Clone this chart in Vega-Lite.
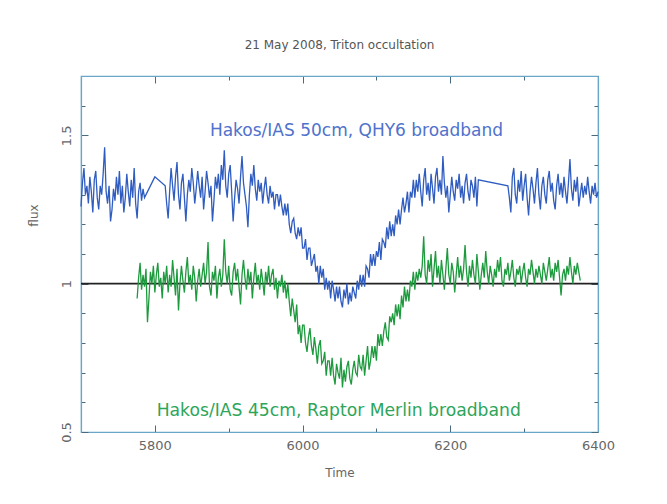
{
  "$schema": "https://vega.github.io/schema/vega-lite/v6.json",
  "width": 517,
  "height": 356,
  "autosize": {"type": "none"},
  "padding": {"left": 81, "top": 76, "right": 69, "bottom": 72},
  "background": "white",
  "title": {"text": "21 May 2008, Triton occultation", "fontSize": 12, "font": "DejaVu Sans", "fontWeight": "normal", "color": "#555555", "offset": 24},
  "config": {
    "view": {"stroke": "#6aa6c8", "strokeWidth": 1.2},
    "axis": {"domainColor": "#6aa6c8", "domainWidth": 1.2, "tickColor": "#4a6a80", "tickWidth": 1, "grid": false, "labelFont": "DejaVu Sans", "labelFontSize": 13, "labelColor": "#666666", "titleFont": "DejaVu Sans", "titleFontSize": 12, "titleFontWeight": "normal", "titleColor": "#666666", "labelOverlap": false, "labelFlush": false}
  },
  "datasets": {
    "blue": [
      {"t":5700,"f":1.26},{"t":5702,"f":1.34},{"t":5704,"f":1.39},{"t":5706,"f":1.30},{"t":5708,"f":1.33},{"t":5710,"f":1.27},{"t":5712,"f":1.36},{"t":5714,"f":1.31},{"t":5716,"f":1.24},{"t":5718,"f":1.35},{"t":5720,"f":1.38},{"t":5722,"f":1.29},{"t":5724,"f":1.25},{"t":5726,"f":1.33},{"t":5728,"f":1.30},{"t":5730,"f":1.37},{"t":5732,"f":1.46},{"t":5734,"f":1.31},{"t":5736,"f":1.27},{"t":5738,"f":1.33},{"t":5740,"f":1.21},{"t":5742,"f":1.25},{"t":5744,"f":1.32},{"t":5746,"f":1.28},{"t":5748,"f":1.36},{"t":5750,"f":1.30},{"t":5752,"f":1.38},{"t":5754,"f":1.27},{"t":5756,"f":1.33},{"t":5758,"f":1.24},{"t":5760,"f":1.29},{"t":5762,"f":1.37},{"t":5764,"f":1.31},{"t":5766,"f":1.26},{"t":5768,"f":1.35},{"t":5770,"f":1.29},{"t":5772,"f":1.39},{"t":5774,"f":1.27},{"t":5776,"f":1.22},{"t":5778,"f":1.31},{"t":5780,"f":1.34},{"t":5782,"f":1.28},{"t":5784,"f":1.32},{"t":5786,"f":1.29},
      {"t":5800,"f":1.36},{"t":5814,"f":1.33},
      {"t":5816,"f":1.27},{"t":5818,"f":1.22},{"t":5820,"f":1.31},{"t":5822,"f":1.39},{"t":5824,"f":1.33},{"t":5826,"f":1.28},{"t":5828,"f":1.36},{"t":5830,"f":1.41},{"t":5832,"f":1.30},{"t":5834,"f":1.25},{"t":5836,"f":1.34},{"t":5838,"f":1.37},{"t":5840,"f":1.29},{"t":5842,"f":1.21},{"t":5844,"f":1.30},{"t":5846,"f":1.35},{"t":5848,"f":1.31},{"t":5850,"f":1.39},{"t":5852,"f":1.34},{"t":5854,"f":1.27},{"t":5856,"f":1.32},{"t":5858,"f":1.38},{"t":5860,"f":1.33},{"t":5862,"f":1.29},{"t":5864,"f":1.36},{"t":5866,"f":1.25},{"t":5868,"f":1.31},{"t":5870,"f":1.38},{"t":5872,"f":1.34},{"t":5874,"f":1.29},{"t":5876,"f":1.33},{"t":5878,"f":1.21},{"t":5880,"f":1.28},{"t":5882,"f":1.36},{"t":5884,"f":1.32},{"t":5886,"f":1.37},{"t":5888,"f":1.30},{"t":5890,"f":1.40},{"t":5892,"f":1.35},{"t":5894,"f":1.45},{"t":5896,"f":1.33},{"t":5898,"f":1.29},{"t":5900,"f":1.37},{"t":5902,"f":1.40},{"t":5904,"f":1.31},{"t":5906,"f":1.21},{"t":5908,"f":1.29},{"t":5910,"f":1.35},{"t":5912,"f":1.32},{"t":5914,"f":1.27},{"t":5916,"f":1.36},{"t":5918,"f":1.43},{"t":5920,"f":1.34},{"t":5922,"f":1.30},{"t":5924,"f":1.26},{"t":5926,"f":1.19},{"t":5928,"f":1.30},{"t":5930,"f":1.37},{"t":5932,"f":1.33},{"t":5934,"f":1.40},{"t":5936,"f":1.32},{"t":5938,"f":1.28},{"t":5940,"f":1.35},{"t":5942,"f":1.31},{"t":5944,"f":1.34},{"t":5946,"f":1.27},{"t":5948,"f":1.32},{"t":5950,"f":1.36},{"t":5952,"f":1.30},{"t":5954,"f":1.27},{"t":5956,"f":1.33},{"t":5958,"f":1.29},{"t":5960,"f":1.31},{"t":5962,"f":1.25},{"t":5964,"f":1.30},
      {"t":5966,"f":1.30},{"t":5968,"f":1.26},{"t":5970,"f":1.30},{"t":5972,"f":1.26},{"t":5974,"f":1.23},{"t":5976,"f":1.27},{"t":5978,"f":1.23},{"t":5980,"f":1.27},{"t":5982,"f":1.20},{"t":5984,"f":1.17},{"t":5986,"f":1.21},{"t":5988,"f":1.22},{"t":5990,"f":1.17},{"t":5992,"f":1.15},{"t":5994,"f":1.19},{"t":5996,"f":1.16},{"t":5998,"f":1.19},{"t":6000,"f":1.12},{"t":6002,"f":1.12},{"t":6004,"f":1.15},{"t":6006,"f":1.08},{"t":6008,"f":1.12},{"t":6010,"f":1.12},{"t":6012,"f":1.06},{"t":6014,"f":1.08},{"t":6016,"f":1.10},{"t":6018,"f":1.04},{"t":6020,"f":1.06},{"t":6022,"f":1.00},{"t":6024,"f":1.06},{"t":6026,"f":1.02},{"t":6028,"f":1.05},{"t":6030,"f":0.98},{"t":6032,"f":1.02},{"t":6034,"f":0.98},{"t":6036,"f":1.01},{"t":6038,"f":0.95},{"t":6040,"f":1.01},{"t":6042,"f":0.98},{"t":6044,"f":0.94},{"t":6046,"f":0.99},{"t":6048,"f":0.95},{"t":6050,"f":0.99},{"t":6052,"f":0.94},{"t":6054,"f":0.92},{"t":6056,"f":0.98},{"t":6058,"f":0.95},{"t":6060,"f":1.00},{"t":6062,"f":0.93},{"t":6064,"f":0.97},{"t":6066,"f":0.94},{"t":6068,"f":0.99},{"t":6070,"f":0.97},{"t":6072,"f":0.95},{"t":6074,"f":1.01},{"t":6076,"f":0.98},{"t":6078,"f":1.03},{"t":6080,"f":0.99},{"t":6082,"f":1.03},{"t":6084,"f":0.99},{"t":6086,"f":1.06},{"t":6088,"f":1.05},{"t":6090,"f":1.02},{"t":6092,"f":1.10},{"t":6094,"f":1.06},{"t":6096,"f":1.10},{"t":6098,"f":1.06},{"t":6100,"f":1.11},{"t":6102,"f":1.09},{"t":6104,"f":1.14},{"t":6106,"f":1.08},{"t":6108,"f":1.15},{"t":6110,"f":1.14},{"t":6112,"f":1.12},{"t":6114,"f":1.19},{"t":6116,"f":1.15},{"t":6118,"f":1.21},{"t":6120,"f":1.16},{"t":6122,"f":1.20},{"t":6124,"f":1.16},{"t":6126,"f":1.23},{"t":6128,"f":1.20},{"t":6130,"f":1.25},{"t":6132,"f":1.20},{"t":6134,"f":1.25},{"t":6136,"f":1.29},{"t":6138,"f":1.24},{"t":6140,"f":1.27},{"t":6142,"f":1.31},{"t":6144,"f":1.24},{"t":6146,"f":1.31},{"t":6148,"f":1.29},{"t":6150,"f":1.35},{"t":6152,"f":1.29},{"t":6154,"f":1.35},{"t":6156,"f":1.31},{"t":6158,"f":1.37},
      {"t":6160,"f":1.31},{"t":6162,"f":1.26},{"t":6164,"f":1.35},{"t":6166,"f":1.39},{"t":6168,"f":1.30},{"t":6170,"f":1.34},{"t":6172,"f":1.28},{"t":6174,"f":1.37},{"t":6176,"f":1.32},{"t":6178,"f":1.27},{"t":6180,"f":1.36},{"t":6182,"f":1.39},{"t":6184,"f":1.31},{"t":6186,"f":1.35},{"t":6188,"f":1.30},{"t":6190,"f":1.43},{"t":6192,"f":1.34},{"t":6194,"f":1.29},{"t":6196,"f":1.33},{"t":6198,"f":1.24},{"t":6200,"f":1.30},{"t":6202,"f":1.36},{"t":6204,"f":1.31},{"t":6206,"f":1.28},{"t":6208,"f":1.35},{"t":6210,"f":1.32},{"t":6212,"f":1.37},{"t":6214,"f":1.29},{"t":6216,"f":1.33},{"t":6218,"f":1.27},{"t":6220,"f":1.34},{"t":6222,"f":1.37},{"t":6224,"f":1.31},{"t":6226,"f":1.28},{"t":6228,"f":1.35},{"t":6230,"f":1.33},{"t":6232,"f":1.29},{"t":6234,"f":1.36},{"t":6236,"f":1.26},{"t":6238,"f":1.35},
      {"t":6278,"f":1.33},
      {"t":6280,"f":1.29},{"t":6282,"f":1.24},{"t":6284,"f":1.36},{"t":6286,"f":1.39},{"t":6288,"f":1.30},{"t":6290,"f":1.27},{"t":6292,"f":1.35},{"t":6294,"f":1.31},{"t":6296,"f":1.38},{"t":6298,"f":1.28},{"t":6300,"f":1.33},{"t":6302,"f":1.37},{"t":6304,"f":1.29},{"t":6306,"f":1.23},{"t":6308,"f":1.31},{"t":6310,"f":1.36},{"t":6312,"f":1.32},{"t":6314,"f":1.27},{"t":6316,"f":1.34},{"t":6318,"f":1.39},{"t":6320,"f":1.30},{"t":6322,"f":1.25},{"t":6324,"f":1.33},{"t":6326,"f":1.36},{"t":6328,"f":1.30},{"t":6330,"f":1.27},{"t":6332,"f":1.35},{"t":6334,"f":1.38},{"t":6336,"f":1.31},{"t":6338,"f":1.34},{"t":6340,"f":1.28},{"t":6342,"f":1.25},{"t":6344,"f":1.33},{"t":6346,"f":1.37},{"t":6348,"f":1.30},{"t":6350,"f":1.34},{"t":6352,"f":1.29},{"t":6354,"f":1.36},{"t":6356,"f":1.31},{"t":6358,"f":1.27},{"t":6360,"f":1.34},{"t":6362,"f":1.42},{"t":6364,"f":1.32},{"t":6366,"f":1.28},{"t":6368,"f":1.35},{"t":6370,"f":1.31},{"t":6372,"f":1.36},{"t":6374,"f":1.26},{"t":6376,"f":1.30},{"t":6378,"f":1.34},{"t":6380,"f":1.29},{"t":6382,"f":1.33},{"t":6384,"f":1.30},{"t":6386,"f":1.36},{"t":6388,"f":1.31},{"t":6390,"f":1.27},{"t":6392,"f":1.33},{"t":6394,"f":1.30},{"t":6396,"f":1.34},{"t":6398,"f":1.29},{"t":6400,"f":1.31}
    ],
    "green": [
      {"t":5776,"f":0.95},{"t":5778,"f":1.02},{"t":5780,"f":1.07},{"t":5782,"f":0.98},{"t":5784,"f":1.03},{"t":5786,"f":0.99},{"t":5788,"f":1.05},{"t":5790,"f":0.87},{"t":5792,"f":0.95},{"t":5794,"f":1.04},{"t":5796,"f":1.00},{"t":5798,"f":1.06},{"t":5800,"f":0.97},{"t":5802,"f":1.03},{"t":5804,"f":1.07},{"t":5806,"f":0.99},{"t":5808,"f":1.02},{"t":5810,"f":0.95},{"t":5812,"f":1.04},{"t":5814,"f":1.00},{"t":5816,"f":1.06},{"t":5818,"f":0.97},{"t":5820,"f":1.03},{"t":5822,"f":0.99},{"t":5824,"f":1.08},{"t":5826,"f":1.02},{"t":5828,"f":0.96},{"t":5830,"f":1.05},{"t":5832,"f":0.91},{"t":5834,"f":1.00},{"t":5836,"f":1.06},{"t":5838,"f":1.01},{"t":5840,"f":0.97},{"t":5842,"f":1.04},{"t":5844,"f":1.09},{"t":5846,"f":1.00},{"t":5848,"f":1.03},{"t":5850,"f":0.98},{"t":5852,"f":1.06},{"t":5854,"f":1.02},{"t":5856,"f":0.94},{"t":5858,"f":1.01},{"t":5860,"f":1.05},{"t":5862,"f":0.99},{"t":5864,"f":1.03},{"t":5866,"f":1.07},{"t":5868,"f":1.00},{"t":5870,"f":1.04},{"t":5872,"f":1.14},{"t":5874,"f":0.99},{"t":5876,"f":0.96},{"t":5878,"f":1.04},{"t":5880,"f":1.01},{"t":5882,"f":1.06},{"t":5884,"f":0.95},{"t":5886,"f":1.02},{"t":5888,"f":1.05},{"t":5890,"f":0.99},{"t":5892,"f":1.03},{"t":5894,"f":1.15},{"t":5896,"f":1.04},{"t":5898,"f":1.00},{"t":5900,"f":1.06},{"t":5902,"f":0.98},{"t":5904,"f":0.96},{"t":5906,"f":1.04},{"t":5908,"f":1.07},{"t":5910,"f":1.01},{"t":5912,"f":1.05},{"t":5914,"f":0.99},{"t":5916,"f":0.93},{"t":5918,"f":1.03},{"t":5920,"f":1.08},{"t":5922,"f":1.02},{"t":5924,"f":0.98},{"t":5926,"f":1.05},{"t":5928,"f":1.00},{"t":5930,"f":1.04},{"t":5932,"f":0.95},{"t":5934,"f":1.02},{"t":5936,"f":1.07},{"t":5938,"f":1.00},{"t":5940,"f":1.03},{"t":5942,"f":0.98},{"t":5944,"f":1.05},{"t":5946,"f":1.01},{"t":5948,"f":0.96},{"t":5950,"f":1.04},{"t":5952,"f":1.00},{"t":5954,"f":1.06},{"t":5956,"f":0.99},{"t":5958,"f":1.03},{"t":5960,"f":1.05},{"t":5962,"f":0.98},{"t":5964,"f":1.02},{"t":5966,"f":0.95},{"t":5968,"f":1.01},{"t":5970,"f":0.99},{"t":5972,"f":1.03},{"t":5974,"f":0.97},
      {"t":5976,"f":1.01},{"t":5978,"f":0.95},{"t":5980,"f":1.00},{"t":5982,"f":0.94},{"t":5984,"f":0.89},{"t":5986,"f":0.95},{"t":5988,"f":0.91},{"t":5990,"f":0.87},{"t":5992,"f":0.93},{"t":5994,"f":0.83},{"t":5996,"f":0.86},{"t":5998,"f":0.80},{"t":6000,"f":0.86},{"t":6002,"f":0.86},{"t":6004,"f":0.80},{"t":6006,"f":0.77},{"t":6008,"f":0.82},{"t":6010,"f":0.85},{"t":6012,"f":0.79},{"t":6014,"f":0.76},{"t":6016,"f":0.82},{"t":6018,"f":0.78},{"t":6020,"f":0.73},{"t":6022,"f":0.79},{"t":6024,"f":0.81},{"t":6026,"f":0.73},{"t":6028,"f":0.74},{"t":6030,"f":0.77},{"t":6032,"f":0.69},{"t":6034,"f":0.74},{"t":6036,"f":0.74},{"t":6038,"f":0.69},{"t":6040,"f":0.75},{"t":6042,"f":0.69},{"t":6044,"f":0.66},{"t":6046,"f":0.73},{"t":6048,"f":0.70},{"t":6050,"f":0.68},{"t":6052,"f":0.75},{"t":6054,"f":0.65},{"t":6056,"f":0.71},{"t":6058,"f":0.67},{"t":6060,"f":0.72},{"t":6062,"f":0.74},{"t":6064,"f":0.68},{"t":6066,"f":0.66},{"t":6068,"f":0.71},{"t":6070,"f":0.74},{"t":6072,"f":0.70},{"t":6074,"f":0.69},{"t":6076,"f":0.76},{"t":6078,"f":0.72},{"t":6080,"f":0.71},{"t":6082,"f":0.76},{"t":6084,"f":0.69},{"t":6086,"f":0.74},{"t":6088,"f":0.79},{"t":6090,"f":0.71},{"t":6092,"f":0.74},{"t":6094,"f":0.79},{"t":6096,"f":0.75},{"t":6098,"f":0.79},{"t":6100,"f":0.74},{"t":6102,"f":0.83},{"t":6104,"f":0.79},{"t":6106,"f":0.83},{"t":6108,"f":0.79},{"t":6110,"f":0.84},{"t":6112,"f":0.87},{"t":6114,"f":0.82},{"t":6116,"f":0.81},{"t":6118,"f":0.89},{"t":6120,"f":0.87},{"t":6122,"f":0.90},{"t":6124,"f":0.86},{"t":6126,"f":0.93},{"t":6128,"f":0.89},{"t":6130,"f":0.93},{"t":6132,"f":0.88},{"t":6134,"f":0.96},{"t":6136,"f":0.92},{"t":6138,"f":0.99},{"t":6140,"f":0.94},{"t":6142,"f":0.98},{"t":6144,"f":0.94},{"t":6146,"f":1.01},{"t":6148,"f":0.99},{"t":6150,"f":1.04},{"t":6152,"f":0.98},{"t":6154,"f":1.04},{"t":6156,"f":1.01},{"t":6158,"f":1.05},
      {"t":6160,"f":1.02},{"t":6162,"f":1.06},{"t":6164,"f":1.16},{"t":6166,"f":1.03},{"t":6168,"f":1.00},{"t":6170,"f":1.08},{"t":6172,"f":1.04},{"t":6174,"f":1.10},{"t":6176,"f":0.99},{"t":6178,"f":1.05},{"t":6180,"f":1.11},{"t":6182,"f":1.02},{"t":6184,"f":1.06},{"t":6186,"f":1.00},{"t":6188,"f":1.08},{"t":6190,"f":1.03},{"t":6192,"f":0.98},{"t":6194,"f":1.05},{"t":6196,"f":1.12},{"t":6198,"f":1.03},{"t":6200,"f":1.00},{"t":6202,"f":1.07},{"t":6204,"f":1.04},{"t":6206,"f":0.97},{"t":6208,"f":1.03},{"t":6210,"f":1.09},{"t":6212,"f":1.02},{"t":6214,"f":1.06},{"t":6216,"f":1.01},{"t":6218,"f":1.05},{"t":6220,"f":1.13},{"t":6222,"f":1.04},{"t":6224,"f":0.99},{"t":6226,"f":1.06},{"t":6228,"f":1.02},{"t":6230,"f":1.08},{"t":6232,"f":1.03},{"t":6234,"f":1.00},{"t":6236,"f":1.10},{"t":6238,"f":1.04},{"t":6240,"f":0.98},{"t":6242,"f":1.03},{"t":6244,"f":1.07},{"t":6246,"f":1.02},{"t":6248,"f":1.11},{"t":6250,"f":1.04},{"t":6252,"f":1.00},{"t":6254,"f":1.06},{"t":6256,"f":1.03},{"t":6258,"f":0.99},{"t":6260,"f":1.05},{"t":6262,"f":1.02},{"t":6264,"f":1.08},{"t":6266,"f":1.04},{"t":6268,"f":1.09},{"t":6270,"f":1.01},{"t":6272,"f":0.99},{"t":6274,"f":1.05},{"t":6276,"f":1.03},{"t":6278,"f":1.07},{"t":6280,"f":1.01},{"t":6282,"f":1.04},{"t":6284,"f":1.08},{"t":6286,"f":1.02},{"t":6288,"f":0.99},{"t":6290,"f":1.05},{"t":6292,"f":1.03},{"t":6294,"f":1.06},{"t":6296,"f":1.00},{"t":6298,"f":1.04},{"t":6300,"f":1.07},{"t":6302,"f":1.02},{"t":6304,"f":0.99},{"t":6306,"f":1.05},{"t":6308,"f":1.03},{"t":6310,"f":1.08},{"t":6312,"f":1.04},{"t":6314,"f":1.00},{"t":6316,"f":1.05},{"t":6318,"f":1.02},{"t":6320,"f":1.06},{"t":6322,"f":1.03},{"t":6324,"f":1.00},{"t":6326,"f":1.07},{"t":6328,"f":1.04},{"t":6330,"f":1.01},{"t":6332,"f":1.05},{"t":6334,"f":1.09},{"t":6336,"f":1.02},{"t":6338,"f":1.05},{"t":6340,"f":1.01},{"t":6342,"f":1.07},{"t":6344,"f":1.04},{"t":6346,"f":1.08},{"t":6348,"f":1.02},{"t":6350,"f":0.96},{"t":6352,"f":1.03},{"t":6354,"f":1.05},{"t":6356,"f":1.01},{"t":6358,"f":1.06},{"t":6360,"f":1.03},{"t":6362,"f":1.09},{"t":6364,"f":1.04},{"t":6366,"f":1.00},{"t":6368,"f":1.06},{"t":6370,"f":1.03},{"t":6372,"f":1.07},{"t":6374,"f":1.04},{"t":6376,"f":1.01}
    ],
    "ref": [{"f": 1}],
    "blueLabel": [{"t": 6073, "f": 1.514, "text": "Hakos/IAS 50cm, QHY6 broadband"}],
    "greenLabel": [{"t": 6049, "f": 0.571, "text": "Hakos/IAS 45cm, Raptor Merlin broadband"}]
  },
  "resolve": {"axis": {"x": "independent", "y": "independent"}},
  "layer": [
    {
      "data": {"name": "ref"},
      "mark": {"type": "rule", "color": "#222222", "strokeWidth": 1.6},
      "encoding": {
        "y": {"field": "f", "type": "quantitative", "scale": {"domain": [0.5, 1.7], "nice": false, "zero": false}, "axis": null}
      }
    },
    {
      "data": {"name": "blue"},
      "mark": {"type": "line", "color": "#2f5cc0", "strokeWidth": 1.3},
      "encoding": {
        "x": {"field": "t", "type": "quantitative", "scale": {"domain": [5700, 6400], "nice": false, "zero": false},
          "axis": {"orient": "bottom", "title": "Time", "values": [5800, 5900, 6000, 6100, 6200, 6300, 6400], "format": "d",
            "labelExpr": "datum.value % 200 === 0 ? datum.label : ''",
            "tickSize": {"condition": {"test": "datum.value % 200 === 0", "value": -7}, "value": -4},
            "labelPadding": 14, "titleY": 40, "titleBaseline": "middle"}},
        "y": {"field": "f", "type": "quantitative", "scale": {"domain": [0.5, 1.7], "nice": false, "zero": false},
          "axis": {"orient": "left", "title": "flux", "values": [0.5, 0.6, 0.7, 0.8, 0.9, 1, 1.1, 1.2, 1.3, 1.4, 1.5, 1.6],
            "labelExpr": "datum.value === 0.5 ? '0.5' : datum.value === 1 ? '1' : datum.value === 1.5 ? '1.5' : ''",
            "tickSize": {"condition": {"test": "datum.value === 0.5 || datum.value === 1 || datum.value === 1.5", "value": -7}, "value": -4},
            "labelAngle": -90, "labelAlign": "center", "labelBaseline": "bottom", "labelPadding": 15,
            "titleAngle": -90, "titleX": -48, "titleY": 139, "titleAlign": "center", "titleBaseline": "middle"}}
      }
    },
    {
      "data": {"name": "green"},
      "mark": {"type": "line", "color": "#1e9a3e", "strokeWidth": 1.3},
      "encoding": {
        "x": {"field": "t", "type": "quantitative", "scale": {"domain": [5700, 6400], "nice": false, "zero": false},
          "axis": {"orient": "top", "title": null, "labels": false, "values": [5800, 5900, 6000, 6100, 6200, 6300, 6400],
            "tickSize": {"condition": {"test": "datum.value % 200 === 0", "value": -7}, "value": -4}}},
        "y": {"field": "f", "type": "quantitative", "scale": {"domain": [0.5, 1.7], "nice": false, "zero": false},
          "axis": {"orient": "right", "title": null, "labels": false, "values": [0.5, 0.6, 0.7, 0.8, 0.9, 1, 1.1, 1.2, 1.3, 1.4, 1.5, 1.6],
            "tickSize": {"condition": {"test": "datum.value === 0.5 || datum.value === 1 || datum.value === 1.5", "value": -7}, "value": -4}}}
      }
    },
    {
      "data": {"name": "blueLabel"},
      "mark": {"type": "text", "color": "#4f72cc", "fontSize": 17, "font": "DejaVu Sans", "align": "center", "baseline": "middle"},
      "encoding": {
        "x": {"field": "t", "type": "quantitative", "axis": null},
        "y": {"field": "f", "type": "quantitative", "axis": null},
        "text": {"field": "text"}
      }
    },
    {
      "data": {"name": "greenLabel"},
      "mark": {"type": "text", "color": "#2ea55a", "fontSize": 17.2, "font": "DejaVu Sans", "align": "center", "baseline": "middle"},
      "encoding": {
        "x": {"field": "t", "type": "quantitative", "axis": null},
        "y": {"field": "f", "type": "quantitative", "axis": null},
        "text": {"field": "text"}
      }
    }
  ]
}
